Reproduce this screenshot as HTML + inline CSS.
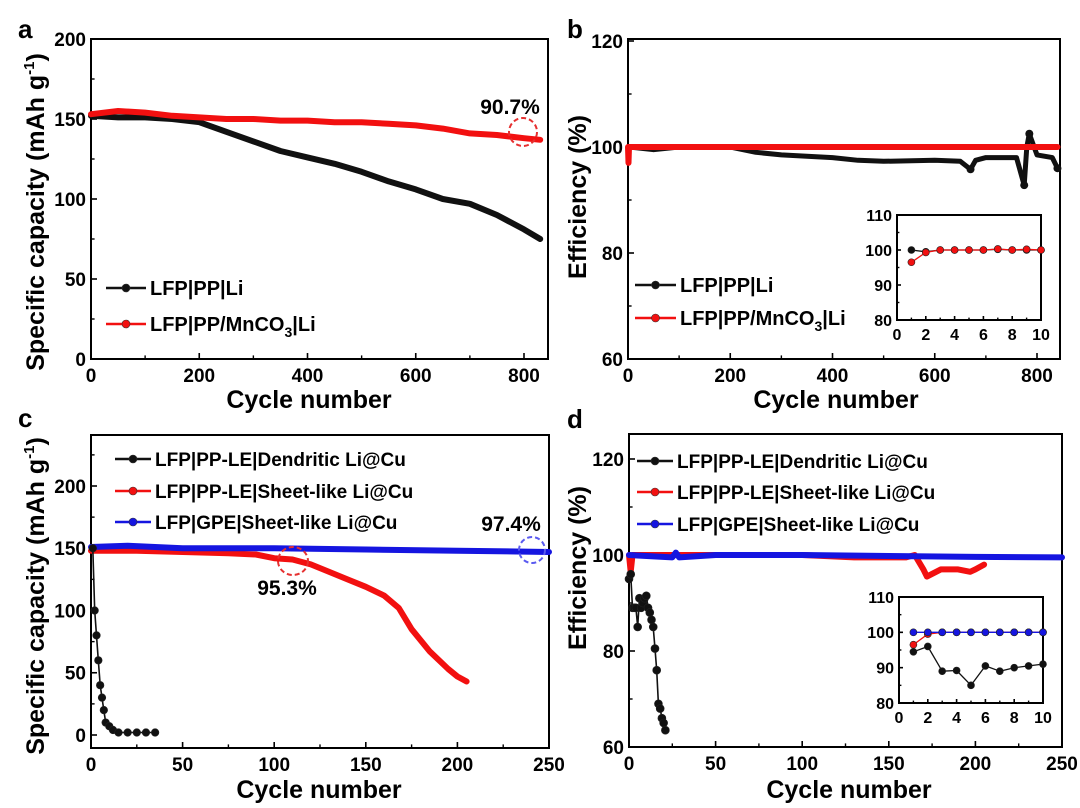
<!DOCTYPE html>
<html><head><meta charset="utf-8">
<style>
html,body{margin:0;padding:0;background:#fff;}
svg{display:block;font-family:"Liberation Sans",Arial,sans-serif;font-weight:bold;}
</style></head>
<body>
<svg id="fig" width="1080" height="808" viewBox="0 0 1080 808" xmlns="http://www.w3.org/2000/svg"></svg>
<script>
// ---- Panel a data ----
const aCycles = [0, 50, 100, 150, 200, 250, 300, 350, 400, 450, 500, 550, 600, 650, 700, 750, 800, 830];
const aBlack  = [152, 151, 151, 150, 148, 142, 136, 130, 126, 122, 117, 111, 106, 100, 97, 90, 81, 75];
const aRed    = [153, 155, 154, 152, 151, 150, 150, 149, 149, 148, 148, 147, 146, 144, 141, 140, 138, 137];
// ---- Panel b data ----
const bCycles = [0, 2, 50, 100, 200, 250, 300, 400, 450, 500, 600, 650, 670, 680, 700, 760, 775, 780, 785, 800, 830, 840];
const bBlack  = [100, 100, 99.5, 100, 100, 99, 98.5, 98, 97.5, 97.3, 97.5, 97.3, 95.8, 97.5, 98, 98, 92.8, 100, 102.5, 98.5, 98, 96];
const bRedCycles = [0, 1, 2, 50, 200, 400, 600, 800, 840];
const bRed    = [100, 97, 100, 100, 100, 100, 100, 100, 100];
const bInsetX = [1, 2, 3, 4, 5, 6, 7, 8, 9, 10];
const bInsetBlack = [100, 99.5, 100, 100, 100, 100, 100.2, 100, 100, 100];
const bInsetRed   = [96.5, 99.3, 100, 100, 100, 100, 100.3, 100, 100.2, 100];
// ---- Panel c data ----
const cBlackX = [1, 2, 3, 4, 5, 6, 7, 8, 10, 12, 15, 20, 25, 30, 35];
const cBlack  = [150, 100, 80, 60, 40, 30, 20, 10, 7, 4, 2, 2, 2, 2, 2];
const cRedX   = [0, 25, 50, 75, 90, 100, 110, 120, 130, 140, 150, 160, 168, 175, 185, 195, 200, 205];
const cRed    = [148, 148, 147, 146, 145, 142, 141, 137, 131, 125, 119, 112, 102, 85, 67, 53, 47, 43];
const cBlueX  = [0, 20, 50, 100, 150, 200, 250];
const cBlue   = [151, 152, 150, 150, 149, 148, 147];
// ---- Panel d data ----
const dBlackX = [0, 1, 2, 3, 4, 5, 6, 7, 8, 9, 10, 11, 12, 13, 14, 15, 16, 17, 18, 19, 20, 21];
const dBlack  = [95, 96, 89, 89, 89, 85, 91, 89, 90, 91, 91.5, 89, 88, 86.5, 85, 80.5, 76, 69, 68, 66, 65, 63.5];
const dRedX   = [0, 1, 2, 50, 100, 130, 160, 165, 170, 172, 180, 190, 197, 200, 205];
const dRed    = [100, 96.5, 100, 100, 100, 99.5, 99.5, 100, 97, 95.5, 97, 97, 96.5, 97, 98];
const dBlueX  = [0, 25, 27, 29, 50, 100, 150, 200, 250];
const dBlue   = [100, 99.5, 100.5, 99.5, 100, 100, 99.8, 99.6, 99.5];
const dInsetX = [1, 2, 3, 4, 5, 6, 7, 8, 9, 10];
const dInsetBlack = [94.5, 96, 89, 89.2, 85, 90.5, 89, 90, 90.5, 91];
const dInsetRed   = [96.5, 99.5, 100, 100, 100, 100, 100, 100, 100, 100];
const dInsetBlue  = [100, 100, 100, 100, 100, 100, 100, 100, 100, 100];

const NS = "http://www.w3.org/2000/svg";
const svg = document.getElementById('fig');
function el(tag, attrs, parent, text){
  const e = document.createElementNS(NS, tag);
  for (const k in attrs) e.setAttribute(k, attrs[k]);
  if (text !== undefined) e.textContent = text;
  (parent || svg).appendChild(e);
  return e;
}
function scale(d0, d1, r0, r1){ return v => r0 + (v - d0) * (r1 - r0) / (d1 - d0); }

function frame(g, L, T, R, B, xs, ys, xticks, yticks, xminor, yminor, fs, tickLen, name){
  const fr = el('rect', {x:L, y:T, width:R-L, height:B-T, fill:'none', stroke:'#000', 'stroke-width':2}, g);
  
  
  xticks.forEach(v => {
    el('line', {x1:xs(v), x2:xs(v), y1:B, y2:B-tickLen, stroke:'#000','stroke-width':1.6}, g);
    const t = el('text', {x:xs(v), y:B + fs + 4, 'text-anchor':'middle','font-size':fs}, g, String(v));
    
    
  });
  xminor.forEach(v => el('line', {x1:xs(v), x2:xs(v), y1:B, y2:B-tickLen*0.6, stroke:'#000','stroke-width':1.4}, g));
  yticks.forEach(v => {
    el('line', {x1:L, x2:L+tickLen, y1:ys(v), y2:ys(v), stroke:'#000','stroke-width':1.6}, g);
    const t = el('text', {x:L-5, y:ys(v) + fs*0.36, 'text-anchor':'end','font-size':fs}, g, String(v));
    
    
  });
  yminor.forEach(v => el('line', {x1:L, x2:L+tickLen*0.6, y1:ys(v), y2:ys(v), stroke:'#000','stroke-width':1.4}, g));
}
function series(g, xsArr, ysArr, xs, ys, color, width, r, name){
  const pts = xsArr.map((x,i) => xs(x).toFixed(1) + ',' + ys(ysArr[i]).toFixed(1)).join(' ');
  const p = el('polyline', {points:pts, fill:'none', stroke:color, 'stroke-width':width, 'stroke-linejoin':'round','stroke-linecap':'round'}, g);
  
  
  if (r > 0) xsArr.forEach((x,i) => {
    const c = el('circle', {cx:xs(x), cy:ys(ysArr[i]), r:r, fill:color, stroke:'#222','stroke-width':0.6}, g);
    
    
  });
}
function legend(g, x1, x2, y, color, label, fs, name, sub){
  el('line', {x1:x1, x2:x2, y1:y, y2:y, stroke:color, 'stroke-width':2.5}, g);
  el('circle', {cx:(x1+x2)/2, cy:y, r:4, fill:color, stroke:'#333','stroke-width':0.6}, g);
  const t = el('text', {x:x2+4, y:y+fs*0.36, 'font-size':fs}, g);
  
  
  if (sub) {
    el('tspan', {}, t, sub[0]);
    el('tspan', {'font-size':fs*0.7, dy:6}, t, sub[1]);
    el('tspan', {dy:-6}, t, sub[2]);
  } else t.textContent = label;
}
function label(x, y, txt, fs, name, rot, anchor){
  const t = el('text', {x:x, y:y, 'font-size':fs, 'text-anchor':anchor||'middle'}, svg, txt);
  if (rot) t.setAttribute('transform', `rotate(-90 ${x} ${y})`);
  
  
  return t;
}

// ===== Panel a =====
{
  const g = el('g', {});  
  const L=91,T=39,R=548,B=359;
  const xs = scale(0, 800, 91, 524), ys = scale(0, 200, 359, 39);
  frame(g,L,T,R,B,xs,ys,[0,200,400,600,800],[0,50,100,150,200],[100,300,500,700],[25,75,125,175],19,6,'panel-a');
  series(g, aCycles, aBlack, xs, ys, '#111', 6, 0, 'series-lfp-pp-li');
  series(g, aCycles, aRed, xs, ys, '#f21010', 6, 0, 'series-lfp-pp-mnco3-li');
  el('ellipse', {cx:523, cy:132, rx:14, ry:14, fill:'none', stroke:'#e63030','stroke-width':2,'stroke-dasharray':'5,3'}, g);
  legend(g,106,146,288,'#111','LFP|PP|Li',20,'legend-lfp-pp-li');
  legend(g,106,146,324,'#f21010','',20,'legend-lfp-pp-mnco3-li',['LFP|PP/MnCO','3','|Li']);
}
label(510,114,'90.7%',21,'annotation-90-7');
label(18,38,'a',26,'panel-label-a',false,'start');
{ const t = label(44,212,'',25,'y-axis-title-a',true);
  el('tspan',{},t,'Specific capacity (mAh g'); el('tspan',{'font-size':15,dy:-10},t,'-1'); el('tspan',{dy:10},t,')'); }
label(309,408,'Cycle number',25,'x-axis-title-a');

// ===== Panel b =====
{
  const g = el('g', {});  
  const L=628,T=39,R=1060,B=359;
  const xs = scale(0, 800, 628, 1037), ys = scale(60, 120, 359, 41);
  frame(g,L,T,R,B,xs,ys,[0,200,400,600,800],[60,80,100,120],[100,300,500,700],[70,90,110],19,6,'panel-b');
  series(g, bCycles, bBlack, xs, ys, '#111', 5, 0, 'series-lfp-pp-li-efficiency');
  [ [670,95.8],[775,92.8],[785,102.5],[840,96] ].forEach(p=>el('circle',{cx:xs(p[0]),cy:ys(p[1]),r:4,fill:'#111'},g));
  series(g, bRedCycles, bRed, xs, ys, '#f21010', 6, 0, 'series-lfp-pp-mnco3-li-efficiency');
  legend(g,635,676,285,'#111','LFP|PP|Li',20,'legend-b-lfp-pp-li');
  legend(g,635,676,318,'#f21010','',20,'legend-b-lfp-pp-mnco3-li',['LFP|PP/MnCO','3','|Li']);
  const iL=897,iT=215,iR=1041,iB=320;
  const ixs = scale(0,10,iL,iR), iys = scale(80,110,iB,iT);
  el('rect',{x:iL,y:iT,width:iR-iL,height:iB-iT,fill:'#fff',stroke:'#000','stroke-width':1.3},g);
  frame(g,iL,iT,iR,iB,ixs,iys,[0,2,4,6,8,10],[80,90,100,110],[1,3,5,7,9],[85,95,105],16,4,'inset-b');
  series(g, bInsetX, bInsetBlack, ixs, iys, '#111', 1.3, 3.5, 'inset-b-black');
  series(g, bInsetX, bInsetRed, ixs, iys, '#f21010', 1.3, 3.5, 'inset-b-red');
}
label(567,38,'b',26,'panel-label-b',false,'start');
label(586,197,'Efficiency (%)',25,'y-axis-title-b',true);
label(836,408,'Cycle number',25,'x-axis-title-b');

// ===== Panel c =====
{
  const g = el('g', {});  
  const L=91,T=435,R=549,B=748;
  const xs = scale(0,250,91,549), ys = scale(0,200,735,486);
  frame(g,L,T,R,B,xs,ys,[0,50,100,150,200,250],[0,50,100,150,200],[25,75,125,175,225],[25,75,125,175,225],19,6,'panel-c');
  series(g, cRedX, cRed, xs, ys, '#f21010', 6, 0, 'series-pp-le-sheet-like');
  series(g, cBlueX, cBlue, xs, ys, '#1515e0', 6, 0, 'series-gpe-sheet-like');
  series(g, cBlackX, cBlack, xs, ys, '#111', 1.6, 3.8, 'series-pp-le-dendritic');
  el('ellipse',{cx:293,cy:561,rx:15,ry:14,fill:'none',stroke:'#e63030','stroke-width':2,'stroke-dasharray':'5,3'},g);
  el('ellipse',{cx:532,cy:550,rx:13,ry:13,fill:'none',stroke:'#5a5af0','stroke-width':2,'stroke-dasharray':'5,3'},g);
  legend(g,115,151,459,'#111','LFP|PP-LE|Dendritic Li@Cu',19,'legend-c-dendritic');
  legend(g,115,151,491,'#f21010','LFP|PP-LE|Sheet-like Li@Cu',19,'legend-c-pp-le-sheet');
  legend(g,115,151,522,'#1515e0','LFP|GPE|Sheet-like Li@Cu',19,'legend-c-gpe-sheet');
}
label(287,595,'95.3%',21,'annotation-95-3');
label(511,531,'97.4%',21,'annotation-97-4');
label(18,427,'c',26,'panel-label-c',false,'start');
{ const t = label(44,596,'',25,'y-axis-title-c',true);
  el('tspan',{},t,'Specific capacity (mAh g'); el('tspan',{'font-size':15,dy:-10},t,'-1'); el('tspan',{dy:10},t,')'); }
label(319,798,'Cycle number',25,'x-axis-title-c');

// ===== Panel d =====
{
  const g = el('g', {});  
  const L=629,T=434,R=1062,B=747;
  const xs = scale(0,250,629,1062), ys = scale(60,120,747,459);
  frame(g,L,T,R,B,xs,ys,[0,50,100,150,200,250],[60,80,100,120],[25,75,125,175,225],[70,90,110],19,6,'panel-d');
  series(g, dRedX, dRed, xs, ys, '#f21010', 6, 0, 'series-d-pp-le-sheet-like');
  series(g, dBlueX, dBlue, xs, ys, '#1515e0', 6, 0, 'series-d-gpe-sheet-like');
  series(g, dBlackX, dBlack, xs, ys, '#111', 1.6, 4, 'series-d-pp-le-dendritic');
  legend(g,637,673,461,'#111','LFP|PP-LE|Dendritic Li@Cu',19,'legend-d-dendritic');
  legend(g,637,673,492,'#f21010','LFP|PP-LE|Sheet-like Li@Cu',19,'legend-d-pp-le-sheet');
  legend(g,637,673,524,'#1515e0','LFP|GPE|Sheet-like Li@Cu',19,'legend-d-gpe-sheet');
  const iL=899,iT=597,iR=1043,iB=703;
  const ixs = scale(0,10,iL,iR), iys = scale(80,110,iB,iT);
  el('rect',{x:iL,y:iT,width:iR-iL,height:iB-iT,fill:'#fff',stroke:'#000','stroke-width':1.3},g);
  frame(g,iL,iT,iR,iB,ixs,iys,[0,2,4,6,8,10],[80,90,100,110],[1,3,5,7,9],[85,95,105],16,4,'inset-d');
  series(g, dInsetX, dInsetRed, ixs, iys, '#f21010', 1.3, 3.5, 'inset-d-red');
  series(g, dInsetX, dInsetBlue, ixs, iys, '#1515e0', 1.3, 3.5, 'inset-d-blue');
  series(g, dInsetX, dInsetBlack, ixs, iys, '#111', 1.3, 3.5, 'inset-d-black');
}
label(567,428,'d',26,'panel-label-d',false,'start');
label(586,568,'Efficiency (%)',25,'y-axis-title-d',true);
label(849,798,'Cycle number',25,'x-axis-title-d');
</script>
</body></html>
